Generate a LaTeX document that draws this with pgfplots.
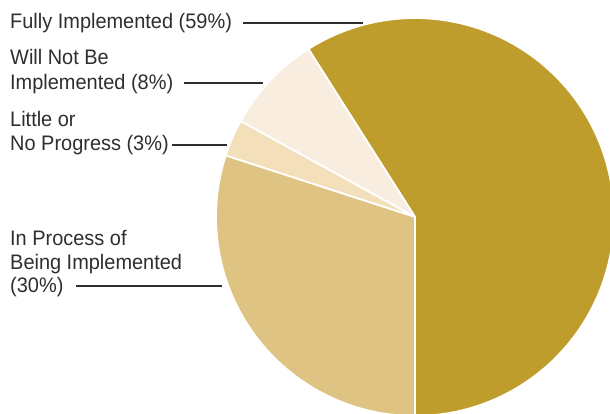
\documentclass[border=0pt]{standalone}
\usepackage{pgfplots}
\pgfplotsset{compat=1.18}
\usepackage{fontspec}
\setmainfont[FakeStretch=0.95]{Liberation Sans}

\definecolor{cFully}{HTML}{BF9D2D}
\definecolor{cWill}{HTML}{F8EDDE}
\definecolor{cLittle}{HTML}{F3DFB9}
\definecolor{cProcess}{HTML}{DEC383}
\definecolor{txt}{HTML}{2E2E2E}

% shares in percent
\def\vFully{59}
\def\vWill{8}
\def\vLittle{3}
\def\vProcess{30}

\begin{document}
\begin{tikzpicture}
\pgfmathsetmacro{\aA}{-90}
\pgfmathsetmacro{\aB}{\aA+3.6*\vFully}
\pgfmathsetmacro{\aC}{\aB+3.6*\vWill}
\pgfmathsetmacro{\aD}{\aC+3.6*\vLittle}
\pgfmathsetmacro{\aE}{\aD+3.6*\vProcess}
\begin{axis}[
    width=610pt, height=413pt, scale only axis,
    xmin=0, xmax=610, ymin=0, ymax=413, y dir=reverse,
    hide axis, clip=true,
    every axis plot/.append style={draw=white, line width=1.8pt, samples=90, line join=round},
]
\addplot[fill=cFully, domain=\aA:\aB] ({415+199*cos(x)}, {217-199*sin(x)}) -- (axis cs:415,217) -- cycle;
\addplot[fill=cWill, domain=\aB:\aC] ({415+199*cos(x)}, {217-199*sin(x)}) -- (axis cs:415,217) -- cycle;
\addplot[fill=cLittle, domain=\aC:\aD] ({415+199*cos(x)}, {217-199*sin(x)}) -- (axis cs:415,217) -- cycle;
\addplot[fill=cProcess, domain=\aD:\aE] ({415+199*cos(x)}, {217-199*sin(x)}) -- (axis cs:415,217) -- cycle;

\begin{scope}[every node/.style={anchor=base west, inner sep=0pt, text=txt, font=\fontsize{21}{24}\selectfont}]
\node at (axis cs:10,28) {Fully Implemented (59\%)};
\node at (axis cs:10,64) {Will Not Be};
\node at (axis cs:10,89) {Implemented (8\%)};
\node at (axis cs:10,126) {Little or};
\node at (axis cs:10,150) {No Progress (3\%)};
\node at (axis cs:10,245) {In Process of};
\node at (axis cs:10,269) {Being Implemented};
\node at (axis cs:10,292) {(30\%)};
\end{scope}
\begin{scope}[draw=txt, line width=1.2pt]
\draw (axis cs:243,23) -- (axis cs:363,23);
\draw (axis cs:184,83) -- (axis cs:263,83);
\draw (axis cs:172,145) -- (axis cs:227,145);
\draw (axis cs:76,286) -- (axis cs:222,286);
\end{scope}
\end{axis}
\path (current axis.south west) rectangle (current axis.north east);
\end{tikzpicture}
\end{document}
